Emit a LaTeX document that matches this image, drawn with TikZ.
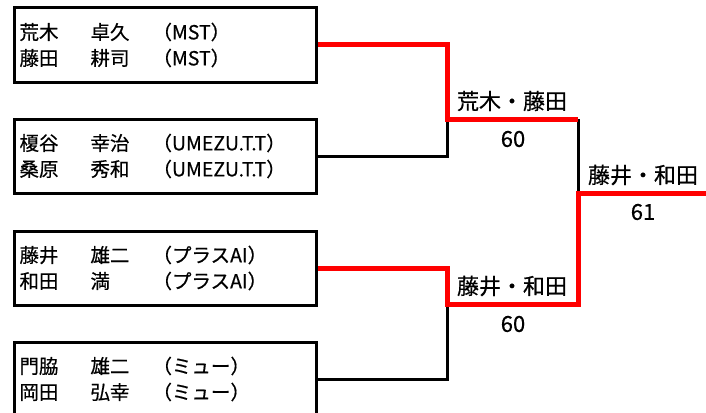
\documentclass[tikz,border=0pt]{standalone}
\usepackage{fontspec}
\setmainfont{Noto Sans CJK JP}[FakeBold=0.5]
\usetikzlibrary{positioning}
\definecolor{winred}{RGB}{255, 0, 0}
\newcommand{\duo}[3]{\makebox[71pt][l]{#1}\makebox[62pt][l]{#2}#3}
\tikzstyle{line} = [line width=3pt, draw=black]
\tikzstyle{win} = [line width=5pt, draw=winred]
\tikzstyle{pair} = [rectangle, draw, line width=3pt, anchor=west, minimum height=74pt,
                    text width=292pt, inner xsep=5pt, inner ysep=0pt, align=left,
                    font=\fontsize{19.5}{26}\selectfont]
\tikzstyle{lbl} = [inner sep=0pt, font=\fontsize{22}{26}\selectfont]

\begin{document}
\begin{tikzpicture}[x=1pt, y=1pt]
    \useasboundingbox (0,0) rectangle (706,-412);
    \clip (0,0) rectangle (706,-412);
    % Pairs
    \node[pair] (p1) at (13,-45) {\duo{荒木}{卓久}{（MST）}\\\duo{藤田}{耕司}{（MST）}\\[4pt]};
    \node[pair] (p2) at (13,-156) {\duo{榎谷}{幸治}{（UMEZU.T.T）}\\\duo{桑原}{秀和}{（UMEZU.T.T）}};
    \node[pair] (p3) at (13,-268) {\duo{藤井}{雄二}{（プラスAI）}\\\duo{和田}{満}{（プラスAI）}\\[2pt]};
    \node[pair] (p4) at (13,-379) {\duo{門脇}{雄二}{（ミュー）}\\\duo{岡田}{弘幸}{（ミュー）}\\[6pt]};

    % Junctions
    \coordinate (s1) at (447,-119);
    \coordinate (s2) at (447,-304);
    \coordinate (f) at (578,-193);
    \coordinate (fend) at (706,-193);

    % Losers
    \draw[line] (p2.east) -| (s1);
    \draw[line] (p4.east) -| (s2);
    \draw[line] (s1 -| f) -- (f);

    % Winners
    \draw[win] (p1.east) -| (s1) -- (s1 -| f);
    \draw[win] (p3.east) -| (s2) -- (s2 -| f) -- (f) -- (fend);

    % Results
    \node[lbl] (w1) at (512,-101) {荒木・藤田};
    \node[lbl] (c1) at (513,-139) {60};
    \node[lbl] (w2) at (512,-286) {藤井・和田};
    \node[lbl] (c2) at (513,-324) {60};
    \node[lbl] (w3) at (643,-175) {藤井・和田};
    \node[lbl] (c3) at (643,-212) {61};
\end{tikzpicture}
\end{document}
